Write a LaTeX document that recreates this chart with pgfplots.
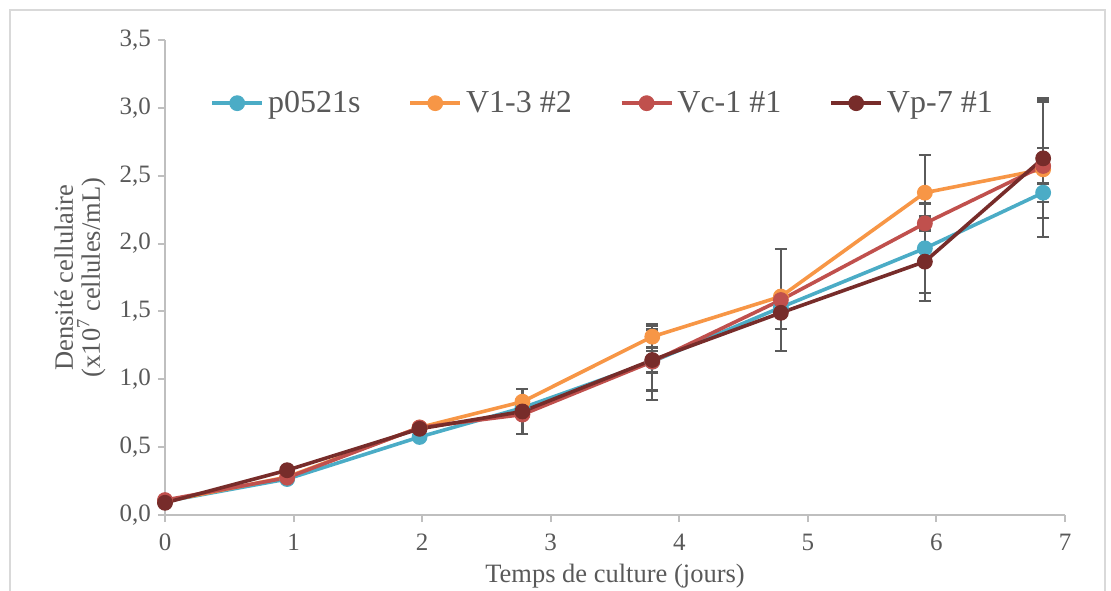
\documentclass[border=0pt]{standalone}
\usepackage{fontspec}
\setmainfont{Liberation Serif}
\usepackage{pgfplots}
\usepackage{pgfplotstable}
\pgfplotsset{compat=1.18}

\definecolor{cBlue}{HTML}{4BACC6}
\definecolor{cOrange}{HTML}{F79646}
\definecolor{cRed}{HTML}{C0504D}
\definecolor{cDark}{HTML}{772C2A}
\definecolor{cText}{HTML}{595959}
\definecolor{cAxis}{HTML}{BFBFBF}
\definecolor{cErr}{HTML}{5A5A5A}
\definecolor{cFrame}{HTML}{D9D9D9}

% growth curves: time (days), density (x10^7 cells/mL), standard deviation
\pgfplotstableread{
x    y      e
0    0.10   0
0.95 0.265  0
1.98 0.575  0
2.78 0.79   0
3.79 1.13   0.28
4.79 1.53   0
5.91 1.965  0.33
6.83 2.375  0.07
}\tabBlue
\pgfplotstableread{
x    y      e
0    0.10   0
0.95 0.28   0
1.98 0.645  0
2.78 0.835  0
3.79 1.314  0.08
4.79 1.61   0
5.91 2.375  0.28
6.83 2.547  0.50
}\tabOrange
\pgfplotstableread{
x    y      e
0    0.11   0
0.95 0.275  0
1.98 0.645  0
2.78 0.74   0
3.79 1.13   0.08
4.79 1.584  0.375
5.91 2.149  0.05
6.83 2.572  0.13
}\tabRed
\pgfplotstableread{
x    y      e
0    0.09   0
0.95 0.33   0
1.98 0.635  0
2.78 0.763  0.165
3.79 1.142  0.225
4.79 1.49   0.12
5.91 1.867  0.29
6.83 2.628  0.44
}\tabDark

\pgfplotsset{
  errs/.style={draw=none, forget plot, mark=none,
    error bars/.cd, y dir=both, y explicit,
    error bar style={cErr, line width=1.15pt},
    error mark options={rotate=90, mark size=3pt, cErr, line width=1.15pt}},
  series/.style={color=#1, line width=1.8pt, mark=*, mark size=3.7pt,
    mark options={fill=#1, draw=#1, line width=0.5pt}},
}

\begin{document}
\begin{tikzpicture}
\begin{axis}[
  scale only axis,
  width=450pt, height=237.5pt,
  xmin=0, xmax=7, ymin=0, ymax=3.5,
  xtick={0,1,...,7},
  ytick={0,0.5,...,3.5},
  axis x line*=bottom, axis y line*=left,
  axis line style={cAxis, line width=1pt, -},
  tick style={cAxis, line width=1pt},
  tick align=outside, major tick length=3.5pt,
  ticklabel style={font=\fontsize{12.5}{15}\selectfont, text=cText},
  xticklabel style={yshift=-2.5pt},
  yticklabel style={/pgf/number format/.cd, fixed, fixed zerofill, precision=1, use comma},
  /pgf/number format/assume math mode=true,
  scaled y ticks=false,
  xlabel={Temps de culture (jours)},
  ylabel={Densité cellulaire\\(x10\textsuperscript{7} cellules/mL)},
  label style={font=\fontsize{13.25}{13.5}\selectfont, text=cText},
  xlabel style={at={(axis description cs:0.5,0)}, anchor=center, yshift=-30.5pt},
  ylabel style={at={(axis description cs:-0.0944,0.5)}, anchor=center, align=center},
  legend columns=4,
  legend style={at={(rel axis cs:0.05,0.867)}, anchor=west, draw=none, fill=none,
    font=\fontsize{16}{19}\selectfont, text=cText, inner sep=0pt,
    /tikz/every even column/.append style={column sep=22pt}},
  legend cell align=left,
  legend image code/.code={\draw[mark repeat=2, mark phase=2, #1]
     plot coordinates {(0pt,0pt) (12.5pt,0pt) (25pt,0pt)};},
  clip=false,
]
% error bars first, so that the curves sit on top of them
\addplot[errs] table[x=x, y=y, y error=e] {\tabBlue};
\addplot[errs] table[x=x, y=y, y error=e] {\tabOrange};
\addplot[errs] table[x=x, y=y, y error=e] {\tabRed};
\addplot[errs] table[x=x, y=y, y error=e] {\tabDark};

\addplot[series=cBlue]   table[x=x, y=y] {\tabBlue};
\addlegendentry{p0521s}
\addplot[series=cOrange] table[x=x, y=y] {\tabOrange};
\addlegendentry{V1-3 \#2}
\addplot[series=cRed]    table[x=x, y=y] {\tabRed};
\addlegendentry{Vc-1 \#1}
\addplot[series=cDark]   table[x=x, y=y] {\tabDark};
\addlegendentry{Vp-7 \#1}
\end{axis}
\pgfresetboundingbox
\path[use as bounding box] (-82.5pt,-37.5pt) rectangle (473pt,257.5pt);
\draw[cFrame, line width=0.6pt] (-77.5pt,-60pt) rectangle (470pt,252.5pt);
\end{tikzpicture}
\end{document}
